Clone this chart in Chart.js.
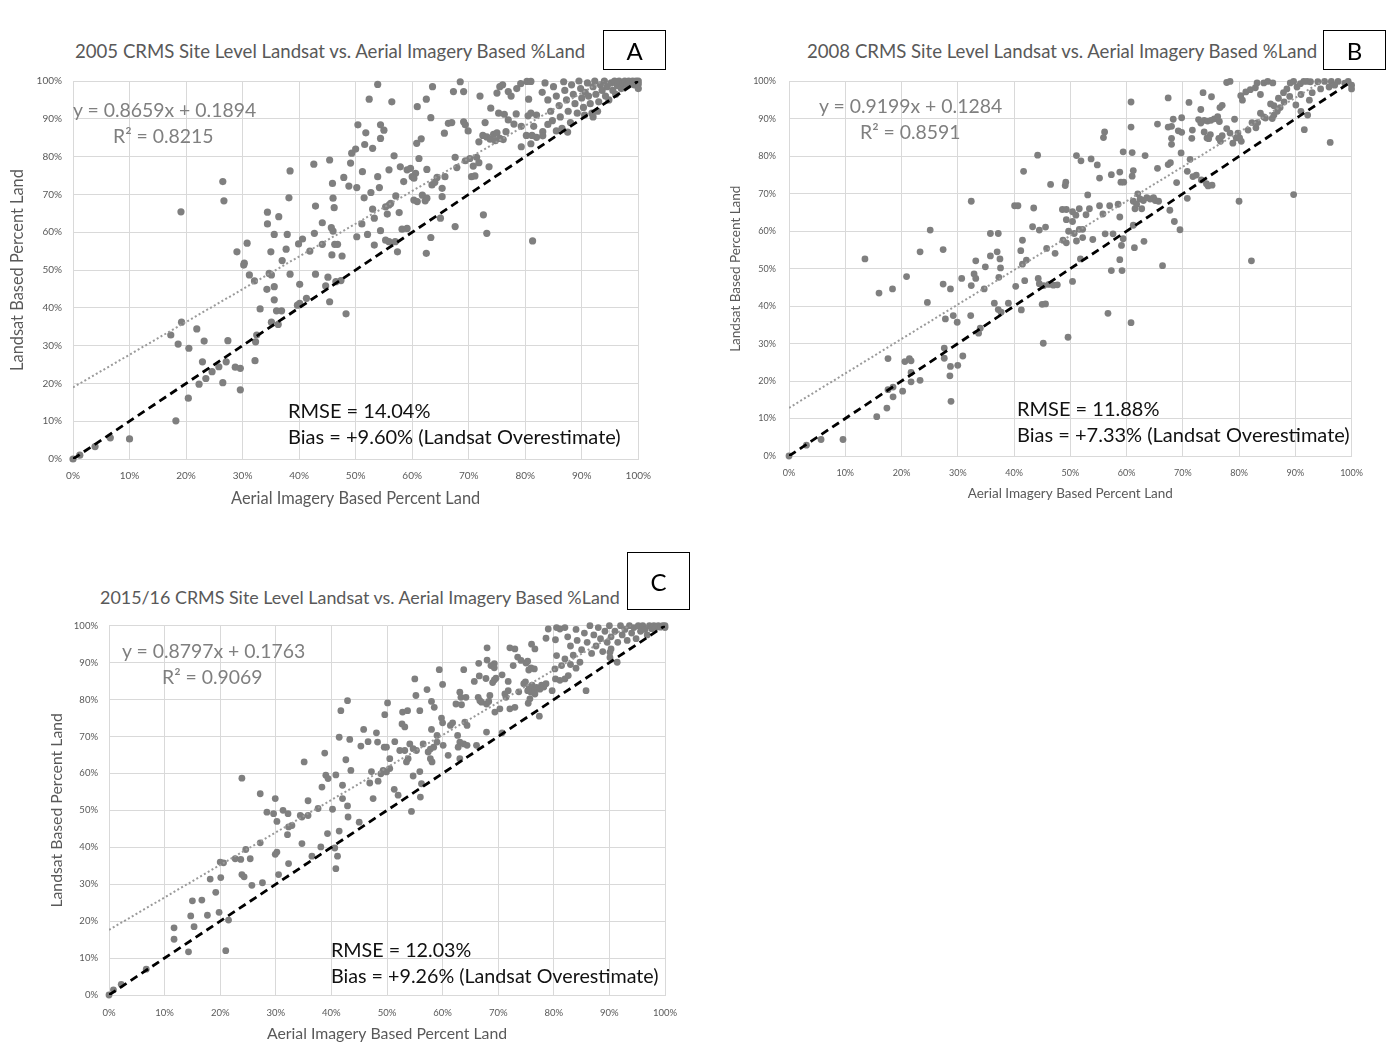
<!DOCTYPE html>
<html>
<head>
<meta charset="utf-8">
<script src="https://cdn.jsdelivr.net/npm/chart.js@4.4.0/dist/chart.umd.min.js"></script>
<style>
  body { margin:0; background:#fff; width:1391px; height:1043px; position:relative; overflow:hidden; font-family:Lato, "Open Sans", sans-serif; }
  canvas { position:absolute; }
  .txt { position:absolute; line-height:20px; white-space:nowrap; }
  .title { color:#595959; font-size:18.6px; }
  .eq { color:#7f7f7f; font-size:19.4px; }
  .stat { color:#111; font-size:20px; }
  .box { position:absolute; border:1.5px solid #000; box-sizing:border-box; font-size:24px; display:flex; align-items:center; justify-content:center; color:#000; }
</style>
</head>
<body>
<canvas id="chartA" width="662" height="454" style="left:0px;top:64px"></canvas>
<canvas id="chartB" width="660" height="447" style="left:715px;top:63px"></canvas>
<canvas id="chartC" width="660" height="434" style="left:30px;top:609px"></canvas>

<div class="txt title" style="left:75px;top:41px">2005 CRMS Site Level Landsat vs. Aerial Imagery Based %Land</div>
<div class="box" style="left:603px;top:30px;width:63px;height:40px">A</div>
<div class="txt eq" style="left:73px;top:100px">y = 0.8659x + 0.1894</div>
<div class="txt eq" style="left:113px;top:126px">R² = 0.8215</div>
<div class="txt stat" style="left:288px;top:400px">RMSE = 14.04%</div>
<div class="txt stat" style="left:288px;top:426px">Bias = +9.60% (Landsat Overestimate)</div>

<div class="txt title" style="left:807px;top:41px">2008 CRMS Site Level Landsat vs. Aerial Imagery Based %Land</div>
<div class="box" style="left:1323px;top:30px;width:63px;height:40px">B</div>
<div class="txt eq" style="left:819px;top:96px">y = 0.9199x + 0.1284</div>
<div class="txt eq" style="left:860px;top:122px">R² = 0.8591</div>
<div class="txt stat" style="left:1017px;top:398px">RMSE = 11.88%</div>
<div class="txt stat" style="left:1017px;top:424px">Bias = +7.33% (Landsat Overestimate)</div>

<div class="txt title" style="left:100px;top:587px;font-size:17.9px">2015/16 CRMS Site Level Landsat vs. Aerial Imagery Based %Land</div>
<div class="box" style="left:627px;top:552px;width:63px;height:58px">C</div>
<div class="txt eq" style="left:122px;top:641px">y = 0.8797x + 0.1763</div>
<div class="txt eq" style="left:162px;top:667px">R² = 0.9069</div>
<div class="txt stat" style="left:331px;top:940px;font-size:19.7px">RMSE = 12.03%</div>
<div class="txt stat" style="left:331px;top:966px;font-size:19.7px">Bias = +9.26% (Landsat Overestimate)</div>

<script>
// [aerial %, landsat %] per CRMS site
const pointsA = [
  [0,0],[1.2,1.0],[3.9,3.3],[6.6,5.6],[10.0,5.3],[18.2,10.1],[20.4,16.1],
  [17.3,32.8],[19.2,36.2],[18.6,30.4],[20.5,29.3],[19.1,65.4],[21.9,34.4],[23.2,31.2],
  [22.9,25.7],[25.8,24.4],[24.6,23.1],[27.1,25.7],[23.5,21.3],[22.3,19.8],[26.5,20.2],
  [27.4,31.3],[28.7,24.3],[29.6,24.0],[29.6,18.3],[26.5,73.4],[26.7,68.3],[29.0,54.8],
  [30.3,51.8],[30.8,57.1],[30.2,51.3],[31.2,48.7],[32.1,47.1],[32.2,26.0],[32.3,31.0],
  [32.5,32.8],[33.1,39.7],[34.4,65.3],[34.4,62.2],[35.6,59.4],[36.4,64.1],[35.0,54.8],
  [37.7,55.5],[37.9,59.4],[37.0,52.5],[38.2,69.1],[38.4,76.2],[34.7,49.1],[35.1,48.7],
  [34.3,44.9],[35.6,45.6],[35.6,42.1],[36.0,39.2],[36.9,39.2],[35.1,36.2],[36.3,35.6],
  [38.4,48.9],[39.9,56.9],[40.6,58.2],[40.1,46.2],[39.7,40.7],[40.1,41.2],[41.3,42.5],
  [41.9,55.0],[42.6,78.0],[42.9,66.9],[42.7,59.7],[42.9,48.9],[44.1,62.5],[44.1,56.8],
  [45.1,48.1],[44.7,45.8],[45.4,41.6],[45.4,79.1],[45.9,72.9],[46.0,69.0],[46.2,66.5],
  [45.7,61.2],[46.0,60.3],[46.3,56.8],[46.8,56.8],[45.8,54.0],[46.5,46.9],[47.4,47.2],
  [47.6,53.7],[47.9,74.5],[48.3,38.4],[48.8,72.2],[49.1,78.3],[49.3,80.9],[50.0,82.0],
  [50.4,88.4],[50.2,58.8],[50.2,71.8],
  [53.9,99.1],[52.4,95.2],[56.4,94.5],[51.8,86.3],[54.4,88.4],[55.0,87.0],[54.4,84.8],
  [51.6,83.2],[53.0,82.2],[56.8,80.2],[51.2,76.0],[53.9,74.7],[55.9,76.5],[57.9,77.3],
  [59.1,76.5],[59.7,76.9],[60.6,75.6],[60.0,74.7],[60.3,74.3],[58.5,73.4],[61.2,79.5],
  [60.8,83.5],[61.6,84.7],[52.7,70.5],[51.5,69.1],[54.2,71.8],[57.1,69.6],[55.3,66.7],
  [55.9,67.2],[56.2,67.6],[53.0,66.1],[53.3,63.7],[51.1,62.2],[55.6,64.8],[57.7,65.2],
  [60.3,68.5],[60.9,68.1],[61.8,69.8],[62.3,68.3],[62.6,69.0],[63.5,72.5],[64.0,73.2],
  [64.4,74.5],[65.3,71.6],[65.8,74.7],[65.3,69.4],[62.6,76.6],[63.3,90.3],[60.9,93.2],
  [62.5,95.2],[63.6,98.5],[67.3,97.2],[69.1,97.2],[68.5,99.8],[66.4,88.8],[67.0,89.0],
  [65.7,86.2],[69.1,89.2],[69.4,88.4],[69.9,86.8],[67.6,79.8],[67.9,77.1],[69.4,78.9],
  [70.2,79.5],[70.5,74.7],[71.1,74.9],[70.8,77.5],[71.4,79.8],[71.8,78.4],[71.8,83.9],
  [72.9,89.0],[72.5,85.6],[73.2,85.2],[73.8,84.6],[74.4,85.9],[75.0,86.3],[75.5,84.8],
  [74.7,84.2],[76.1,84.5],[76.6,86.6],[72.0,96.0],[73.9,92.8],[73.6,77.3],[72.6,64.6],
  [73.2,59.7],[67.6,61.5],[65.0,63.7],[63.3,58.6],[62.5,54.4],[57.4,54.8],[57.0,57.5],
  [55.9,57.5],[55.3,57.9],[59.1,61.0],[58.2,60.8],[53.3,56.6],[52.1,59.4],[54.4,60.4],
  [81.3,57.7],
  [75.0,96.8],[75.5,98.5],[76.0,99.0],[77.0,97.2],[77.5,96.0],[78.5,98.0],[79.2,99.3],
  [80.3,99.9],[81.0,99.9],[75.3,91.5],[76.3,91.2],[77.0,89.7],[78.0,88.6],[78.4,91.3],
  [79.3,88.0],[80.2,85.6],[81.2,85.6],[81.0,83.4],[81.5,88.0],[82.0,85.1],[83.1,86.6],
  [83.1,85.5],[79.3,82.6],[80.5,90.8],[81.0,91.5],[82.0,91.0],[80.6,95.2],
  [83.0,97.0],[83.5,99.5],[84.0,95.0],[84.5,92.0],[84.8,89.5],[85.0,98.5],[85.5,96.0],
  [86.0,93.5],[86.2,90.5],[86.8,99.8],[87.0,97.5],[87.3,95.0],[87.6,92.0],[88.0,89.0],
  [88.2,99.0],[88.5,96.5],[88.8,94.0],[89.2,91.5],[89.5,100],[89.8,98.0],[90.0,95.5],
  [90.3,93.0],[90.6,97.0],[91.0,99.5],[91.2,96.0],[91.5,94.0],[91.8,91.5],[92.0,98.5],
  [92.3,100],[92.5,96.5],[92.8,92.0],[93.0,94.5],[93.3,99.0],[93.6,97.5],[94.0,100],
  [94.2,96.0],[94.5,98.5],[94.8,95.0],[95.2,99.5],[95.5,97.5],[95.8,100],[96.0,96.5],
  [96.3,98.8],[96.6,100],[97.0,98.0],[97.3,99.5],[97.6,100],[98.0,99.0],[98.3,100],
  [98.6,99.5],[99.0,100],[99.3,99.0],[99.6,100],[100,100],[100,99.2],[100,98.0],
  [86.5,87.5],[85.5,86.8],[84.0,88.5],[87.5,86.5],[90.5,91.0],[92.0,90.5]
];

const pointsB = [
  [0,0],[3.1,2.9],[5.7,4.4],[9.6,4.4],[15.6,10.5],[17.4,12.8],[18.5,15.8],[17.6,17.7],
  [18.5,18.4],[20.2,17.3],[21.7,19.8],[23.3,20.2],[20.6,25.2],[21.7,22.3],[21.4,26.0],
  [21.7,25.4],[17.6,26.0],[13.5,52.6],[16.0,43.5],[18.4,44.6],[20.9,47.9],[23.3,54.5],
  [25.1,60.3],[27.4,55.1],[24.6,41.0],[27.4,45.9],[28.7,44.6],[30.7,47.4],[32.9,48.6],
  [33.2,47.4],[32.4,45.5],[27.6,28.8],[27.6,26.1],[30.9,26.7],[28.7,23.9],[30.0,24.2],
  [28.6,21.4],[28.8,14.6],[27.8,36.6],[29.2,37.5],[29.9,35.7],[32.3,37.5],[34.0,34.1],
  [33.7,32.8],[32.4,68.0],[33.2,52.1],[34.9,50.5],[34.7,44.6],[35.8,59.4],[37.2,59.4],
  [35.8,53.4],[37.0,54.5],[37.5,52.6],[37.6,50.2],[37.3,47.7],[36.5,40.8],[37.2,39.1],
  [37.7,38.4],[39.0,40.8],[40.1,66.8],[40.7,66.8],[41.7,76.0],[43.5,66.2],[43.3,61.2],
  [44.5,60.3],[45.6,61.1],[41.5,57.6],[41.2,54.8],[41.5,51.2],[42.2,52.3],[40.3,45.3],
  [41.9,46.8],[41.3,39.0],[44.3,47.4],[44.5,46.0],[45.3,45.5],[46.2,45.8],[47.0,45.6],
  [47.7,45.7],[45.0,40.5],[45.6,40.6],[45.2,30.1],[44.2,80.3],[46.5,72.5],[49.1,72.2],
  [45.8,55.4],[47.3,54.1],[48.6,65.8],[49.3,65.8],[49.3,63.1],[48.7,57.6],[49.3,56.9],
  [49.7,60.0],[49.6,31.7],[50.4,46.6],
  [57.3,49.5],[59.2,49.5],[58.8,52.4],[66.4,50.8],[56.7,38.1],[60.8,35.6],[60.8,94.5],
  [67.4,95.6],[71.1,94.4],[73.6,97.0],[75.1,95.9],[77.8,99.7],[78.4,100],[73.2,92.5],
  [76.6,93.0],[77.0,93.6],[56.1,86.5],[60.8,87.8],[65.5,88.6],[67.4,87.8],[68.0,88.0],
  [68.3,89.9],[69.8,90.3],[69.2,86.8],[69.8,86.4],[68.0,84.8],[68.0,83.2],[71.7,87.0],
  [71.6,84.8],[72.8,89.8],[73.2,88.9],[73.8,89.6],[74.4,89.4],[75.0,89.6],[75.6,90.0],
  [76.2,90.6],[76.5,89.3],[73.8,86.5],[74.3,84.9],[74.9,85.8],[74.6,84.7],[76.4,84.8],
  [76.7,84.0],[77.0,85.5],[77.8,87.4],[78.4,86.2],[79.2,89.9],[79.8,86.2],[79.5,84.9],
  [80.1,84.9],[80.4,84.0],[78.9,83.5],[81.6,87.0],[80.6,95.0],[80.3,96.2],[81.2,97.2],
  [82.0,97.8],[82.9,98.3],[83.8,96.5],[83.2,99.6],[84.4,99.6],[85.1,100],[86.0,99.6],
  [83.8,91.5],[84.4,90.5],[84.7,90.2],[85.9,90.1],[86.2,91.0],[86.8,92.0],[87.3,93.0],
  [86.2,93.5],[85.6,94.0],[87.9,97.0],[88.5,98.0],[89.1,99.6],[89.7,100],[90.3,98.5],
  [90.9,99.4],[91.5,100],[92.1,100],[92.7,99.9],[94.0,99.9],[95.2,100],[96.4,100],
  [97.6,100],[98.8,99.5],[99.4,100],[100,99.0],[100,98.0],[83.0,87.6],[83.3,89.0],
  [82.3,89.0],[91.6,87.1],[92.2,91.0],[91.0,92.0],[90.1,93.7],[88.0,94.5],[89.0,96.0],
  [93.0,97.0],[94.5,98.0],[96.0,98.5],[97.0,99.0],[92.5,95.0],[91.0,96.5],[87.0,95.5],
  [96.2,83.7],[89.7,69.8],[80.0,68.0],[82.2,52.1],
  [51.1,80.2],[51.9,78.8],[53.7,79.3],[54.8,77.7],[55.2,74.2],[49.2,73.1],[57.3,75.1],
  [58.8,75.8],[59.0,73.1],[59.5,73.1],[59.4,81.2],[61.0,81.0],[63.3,80.2],[61.0,74.7],
  [61.2,76.2],[65.5,76.8],[67.4,77.8],[67.8,78.3],[69.7,80.9],[71.3,79.2],[70.8,76.0],
  [71.8,74.6],[72.4,75.0],[73.3,73.7],[74.2,72.7],[74.5,72.1],[75.2,72.3],[68.9,73.0],
  [62.0,70.0],[62.4,68.6],[63.0,68.2],[63.6,69.0],[64.2,68.6],[64.8,69.0],[65.1,68.2],
  [65.7,68.0],[70.8,68.8],[61.2,68.0],[61.5,66.0],[62.7,66.0],[61.8,67.2],[53.1,69.7],
  [50.4,65.2],[51.0,64.3],[51.6,66.0],[52.8,64.4],[53.4,66.0],[55.2,66.8],[55.8,64.6],
  [57.0,66.8],[58.5,67.2],[58.8,63.8],[50.4,62.6],[51.6,60.5],[52.2,60.5],[50.7,59.4],
  [51.1,57.4],[52.2,58.3],[54.0,57.8],[56.2,59.3],[57.6,59.3],[59.4,58.0],[59.1,56.2],
  [61.2,61.6],[63.1,57.3],[61.4,55.6],[67.7,65.6],[68.5,62.6],[69.5,60.4],[51.8,52.6],
  [55.9,85.0]
];

const pointsC = [
  [0,0],[0.8,1.4],[2.2,2.9],[6.7,7.0],[11.7,18.2],[11.7,15.1],[14.3,11.7],[15.3,18.5],
  [14.7,21.4],[17.7,21.6],[15.0,25.5],[16.7,25.7],[18.2,31.4],[19.2,27.8],[19.8,22.4],
  [21.5,20.3],[21.0,12.0],[20.1,31.8],[20.0,36.0],[20.6,35.8],[22.7,36.9],[23.7,36.7],
  [24.6,39.4],[25.4,36.9],[23.9,32.6],[24.3,32.0],[25.7,29.7],[27.6,30.4],[27.2,41.2],
  [23.9,58.7],[27.2,54.5],[29.9,53.2],[28.4,49.5],[29.6,49.1],[31.3,50.0],[32.2,49.1],
  [30.2,47.0],[32.3,45.5],[32.9,45.9],[32.1,43.4],[34.7,48.2],[30.2,38.7],[29.9,38.1],
  [30.5,32.6],[32.3,35.6],[34.7,41.0],[36.5,37.6],[38.1,40.1],[39.3,43.7],[40.6,39.8],
  [41.1,37.6],[40.8,34.2],[41.4,44.4],[43.0,48.2],[45.0,46.8],[35.1,63.1],[35.8,52.6],
  [34.4,48.6],[35.8,48.6],[37.6,50.5],[38.3,56.3],[38.8,65.5],[39.0,59.5],[39.4,58.6],
  [40.2,50.3],[40.8,59.6],[41.4,69.8],[41.7,77.0],[42.9,79.7],[42.6,63.7],[42.0,56.8],
  [42.0,53.2],[42.9,51.2],[43.3,69.2],[43.5,60.8],[45.3,67.4],[45.8,71.9],[46.6,68.6],
  [48.1,71.0],[48.3,68.5],[49.5,67.1],[47.2,60.5],[46.9,57.4],[48.4,57.9],[47.5,53.2],
  [49.6,75.9],
  [68.0,94.0],[72.1,94.0],[73.0,93.7],[76.0,95.0],[76.6,93.7],[79.0,99.1],[80.5,99.5],
  [81.1,99.1],[78.6,96.6],[80.3,96.2],[73.5,91.5],[74.1,90.6],[75.0,89.9],[75.3,90.4],
  [75.9,88.6],[76.5,88.3],[75.5,88.0],[72.7,89.2],[69.3,89.7],[68.7,89.2],[69.3,88.6],
  [68.0,90.7],[66.5,89.8],[70.7,86.7],[69.6,85.8],[69.3,85.3],[69.0,84.6],[67.8,85.7],
  [66.6,86.4],[65.7,84.9],[63.8,88.1],[59.4,88.1],[60.0,84.1],[55.0,85.6],[57.2,82.7],
  [55.2,81.1],[50.1,79.1],[52.8,76.6],[53.7,77.0],[52.7,73.4],[53.2,72.6],[55.9,77.0],
  [58.0,79.5],[58.5,77.9],[59.8,75.0],[60.0,73.7],[63.1,82.0],[63.3,80.6],[64.2,80.6],
  [62.4,78.8],[63.4,78.6],[61.4,73.0],[61.8,73.7],[64.0,73.9],[64.4,73.0],[62.7,70.3],
  [66.4,80.6],[66.7,79.7],[67.0,79.3],[67.9,78.8],[68.3,79.5],[68.5,81.1],[69.4,76.6],
  [70.3,77.5],[71.2,81.5],[71.8,82.4],[71.4,80.6],[72.1,77.5],[73.0,77.9],[71.8,84.9],
  [73.7,82.1],[74.6,84.3],[74.9,84.8],[75.3,82.4],[75.6,83.3],[75.9,82.0],[76.1,83.9],
  [76.6,82.8],[76.9,83.3],[77.5,82.8],[77.8,83.9],[78.2,83.4],[78.6,84.3],[76.6,81.5],
  [75.4,79.0],[80.3,85.6],[81.1,85.2],[82.0,85.6],[82.6,86.5],[81.4,89.2],[80.2,88.3],
  [80.5,91.9],[79.7,82.4],[85.8,82.4],[77.4,75.5],[75.7,80.2],[67.9,71.2],[70.7,71.0],
  [58.0,71.9],[59.0,70.3],[59.0,68.5],[58.4,67.1],[57.8,66.6],[56.5,68.0],[57.4,65.8],
  [57.8,64.0],[58.1,63.1],[54.7,66.7],[55.3,66.2],[53.2,66.2],[52.3,66.2],[51.4,68.6],
  [49.9,67.1],[54.1,68.0],[53.8,64.0],[53.5,63.1],[50.5,64.0],[49.3,60.8],[48.9,59.9],
  [50.5,61.3],[49.9,60.4],[55.9,60.5],[54.7,59.3],[56.2,57.2],[51.3,55.7],[52.0,54.1],
  [56.0,53.6],[54.4,49.7],[60.1,67.6],[61.0,64.9],[63.1,68.5],[62.8,67.1],[63.8,68.0],
  [64.4,67.6],[66.1,67.6],[63.1,64.0],[90.1,91.4],[90.1,92.8],[90.3,93.7],
  [82.0,99.5],[82.5,97.0],[83.0,94.5],[83.5,92.0],[84.0,99.0],[84.2,96.0],[84.7,90.1],
  [85.0,93.5],[85.5,98.0],[86.0,95.5],[86.5,100],[86.8,92.5],[87.2,97.5],[87.6,94.5],
  [88.0,99.5],[88.4,96.5],[88.8,93.0],[89.2,98.5],[89.6,95.5],[90.0,100],[90.3,97.0],
  [91.0,98.5],[91.4,90.1],[91.5,95.5],[92.0,100],[92.3,97.5],[92.8,99.0],[93.2,96.0],
  [93.6,100],[94.0,98.0],[94.4,99.5],[94.8,96.5],[95.2,100],[95.6,98.5],[96.0,100],
  [96.4,99.0],[96.8,97.5],[97.2,100],[97.6,99.2],[98.0,100],[98.4,99.5],[98.8,100],
  [99.2,99.6],[99.6,100],[100,100],[100,99.5],[83.0,89.5],[82.0,91.0],[84.0,88.5]
];

// Excel linear trendlines as printed on each panel (y = slope*x + intercept, fractions)
const fitSlopes = [0.8659, 0.9199, 0.8797];
const fitIntercepts = [0.1894, 0.1284, 0.1763];
const oneToOne = [0, 100];
const tickStep = 10;

const FONT = 'Lato, "Open Sans", sans-serif';

function makePanel(id, points, slope, intercept, cfg) {
  var trend = oneToOne.map(function(x) { return {x: x, y: slope * x + intercept * 100}; });
  new Chart(document.getElementById(id), {
    type: 'scatter',
    data: {
      datasets: [
        { type: 'line', data: oneToOne.map(function(v) { return {x: v, y: v}; }),
          borderColor: '#000', borderWidth: 2.8, borderDash: [8, 5], pointRadius: 0, fill: false },
        { type: 'line', data: trend,
          borderColor: '#9a9a9a', borderWidth: 2, borderDash: [2, 2.4], pointRadius: 0, fill: false },
        { data: points.map(function(p) { return {x: p[0], y: p[1]}; }),
          backgroundColor: '#7f7f7f', borderWidth: 0, pointRadius: cfg.r, clip: false }
      ]
    },
    options: {
      responsive: false, animation: false, events: [],
      layout: { padding: { top: cfg.padTop, right: cfg.padRight, left: 0, bottom: 0 } },
      plugins: { legend: { display: false }, tooltip: { enabled: false } },
      scales: {
        x: {
          type: 'linear', min: 0, max: 100,
          ticks: { stepSize: tickStep, autoSkip: false, maxRotation: 0, padding: cfg.xTickPad,
                   color: '#595959', font: { family: FONT, size: cfg.tick },
                   callback: function(v) { return v + '%'; } },
          grid: { color: '#d9d9d9', drawTicks: false },
          border: { color: '#d9d9d9' },
          title: { display: true, text: 'Aerial Imagery Based Percent Land', color: '#595959',
                   font: { family: FONT, size: cfg.axis }, padding: { top: 0, bottom: cfg.xTitlePad } },
          afterFit: function(s) { s.height = cfg.xH; }
        },
        y: {
          type: 'linear', min: 0, max: 100,
          ticks: { stepSize: tickStep, autoSkip: false, padding: cfg.yTickPad,
                   color: '#595959', font: { family: FONT, size: cfg.tick },
                   callback: function(v) { return v + '%'; } },
          grid: { color: '#d9d9d9', drawTicks: false },
          border: { color: '#d9d9d9' },
          title: { display: true, text: 'Landsat Based Percent Land', color: '#595959',
                   font: { family: FONT, size: cfg.axis }, padding: { top: cfg.yTitlePad, bottom: 0 } },
          afterFit: function(s) { s.width = cfg.yW; }
        }
      }
    }
  });
}

makePanel('chartA', pointsA, fitSlopes[0], fitIntercepts[0],
  { r: 3.6, padTop: 3, padRight: 19, xH: 59, yW: 73, tick: 10, axis: 16.4, xTickPad: 11, yTickPad: 11, xTitlePad: 9, yTitlePad: 8 });
makePanel('chartB', pointsB, fitSlopes[1], fitIntercepts[1],
  { r: 3.4, padTop: 3, padRight: 21, xH: 54, yW: 74, tick: 9, axis: 13.5, xTickPad: 12, yTickPad: 13, xTitlePad: 8, yTitlePad: 13 });
makePanel('chartC', pointsC, fitSlopes[2], fitIntercepts[2],
  { r: 3.4, padTop: 3, padRight: 25, xH: 48, yW: 79, tick: 9.5, axis: 15.8, xTickPad: 12, yTickPad: 11, xTitlePad: 0, yTitlePad: 17.5 });
</script>
</body>
</html>
